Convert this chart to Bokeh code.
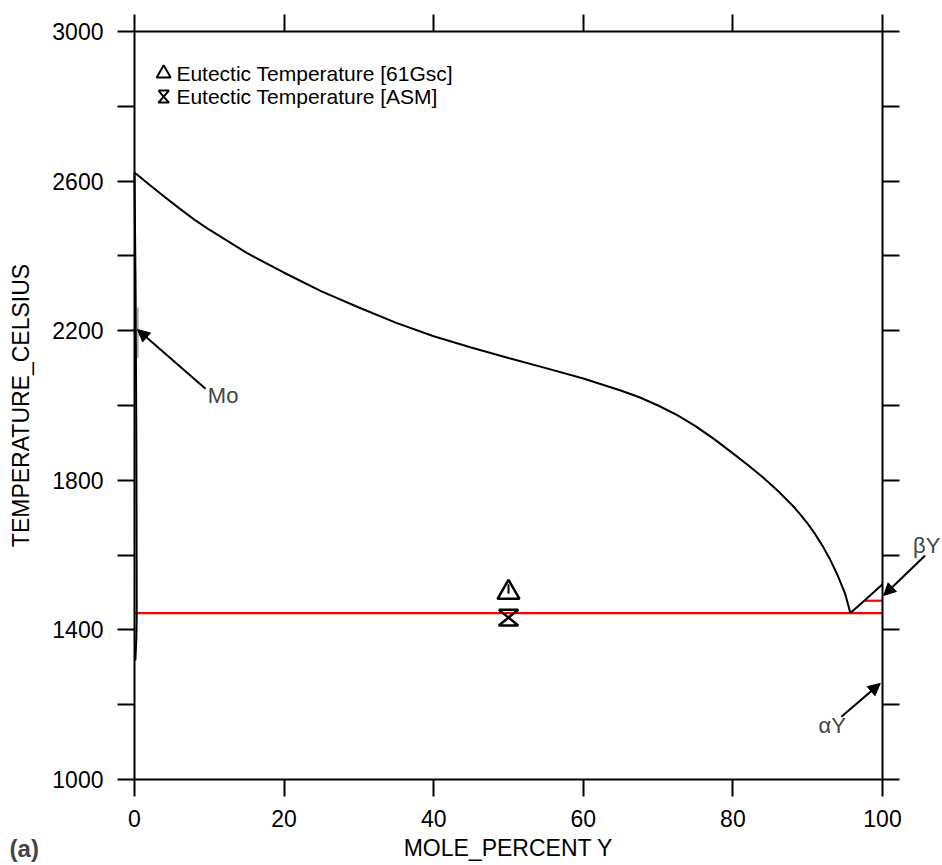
from bokeh.plotting import figure
from bokeh.models import LinearAxis, FixedTicker, Label, Arrow, NormalHead, Range1d
from bokeh.core.properties import value
from bokeh.embed import file_html
from bokeh.resources import INLINE

FONT = "Liberation Sans"

# ---------------- data ----------------
x_ticks = [0, 20, 40, 60, 80, 100]
y_labelled = [1000, 1400, 1800, 2200, 2600, 3000]
y_minor = [1200, 1600, 2000, 2400, 2800]
y_all = [1000, 1200, 1400, 1600, 1800, 2000, 2200, 2400, 2600, 2800, 3000]

# liquidus (Mo side) down to the eutectic
liq_x = [0, 2, 4, 6, 8, 10, 15, 20, 25, 30, 35, 40, 45, 50, 55, 60, 65, 67.5, 70,
         72.5, 75, 77.5, 80, 82, 84, 86, 88, 89, 90, 91, 92, 93, 94, 95, 95.7]
liq_T = [2623, 2590, 2558, 2527, 2497, 2470, 2408, 2355, 2305, 2262, 2221, 2185,
         2155, 2127, 2100, 2072, 2040, 2022, 2000, 1975, 1945, 1910, 1872, 1841,
         1808, 1772, 1732, 1709, 1684, 1656, 1624, 1588, 1546, 1497, 1445]
# liquidus (Y side)
liqY_x = [95.7, 97, 98, 99, 100]
liqY_T = [1445, 1468, 1486, 1504, 1522]
# (Mo) solidus / solvus
mo_x = [0, 0.15, 0.25, 0.3, 0.25, 0.12]
mo_T = [2623, 2300, 1900, 1445, 1380, 1318]
mo_grey_x = [0.45, 0.45]
mo_grey_T = [2128, 2262]

# invariant lines
eut_line_x = [0, 100]
eut_line_T = [1445, 1445]
trans_x = [97.6, 100]
trans_T = [1478, 1478]

# experimental eutectic temperatures
gsc_x = [50]
gsc_T = [1500]
asm_x = [50]
asm_T = [1433]

legend_labels = ["Eutectic Temperature [61Gsc]", "Eutectic Temperature [ASM]"]

# ---------------- figure ----------------
W, H = 942, 865
p = figure(width=W, height=H, x_range=Range1d(-17.914, 108.02),
           y_range=Range1d(770.05, 3082.9),
           output_backend="svg", toolbar_location=None,
           x_axis_location=None, y_axis_location=None,
           min_border_left=0, min_border_right=0, min_border_top=0, min_border_bottom=0)
p.background_fill_color = "white"
p.border_fill_color = "white"
p.outline_line_color = None
p.xgrid.visible = False
p.ygrid.visible = False


def style_axis(ax, tick_out=17):
    ax.axis_line_color = "black"
    ax.axis_line_width = 2
    ax.major_tick_line_color = "black"
    ax.major_tick_line_width = 2
    ax.major_tick_out = tick_out
    ax.major_tick_in = 0
    ax.minor_tick_line_color = "black"
    ax.minor_tick_line_width = 2
    ax.minor_tick_out = tick_out
    ax.minor_tick_in = 0
    ax.major_label_text_font = FONT
    ax.major_label_text_font_size = "23px"
    ax.major_label_text_color = "black"
    ax.axis_label_text_font = FONT
    ax.axis_label_text_font_size = "23px"
    ax.axis_label_text_font_style = "normal"
    ax.axis_label_text_color = "black"


bottom = LinearAxis(fixed_location=1000, bounds=(0, 100),
                    ticker=FixedTicker(ticks=x_ticks), axis_label="MOLE_PERCENT Y")
style_axis(bottom)
bottom.major_label_standoff = 14
bottom.axis_label_standoff = 4
p.add_layout(bottom, "below")

left = LinearAxis(fixed_location=0, bounds=(1000, 3000),
                  ticker=FixedTicker(ticks=y_labelled, minor_ticks=y_minor),
                  axis_label="TEMPERATURE_CELSIUS")
style_axis(left)
left.major_label_standoff = 14
left.axis_label_standoff = 15
p.add_layout(left, "left")

top = LinearAxis(fixed_location=3000, bounds=(0, 100),
                 ticker=FixedTicker(ticks=[], minor_ticks=x_ticks))
style_axis(top)
p.add_layout(top, "above")

right = LinearAxis(fixed_location=100, bounds=(1000, 3000),
                   ticker=FixedTicker(ticks=[], minor_ticks=y_all))
style_axis(right)
p.add_layout(right, "right")

# ---------------- curves ----------------
p.line(eut_line_x, eut_line_T, line_color="#ff0000", line_width=2.2)
p.line(trans_x, trans_T, line_color="#ff0000", line_width=2.2)
p.line(liq_x, liq_T, line_color="black", line_width=2)
p.line(liqY_x, liqY_T, line_color="black", line_width=2)
p.line(mo_x, mo_T, line_color="black", line_width=2)
p.line(mo_grey_x, mo_grey_T, line_color="#a0a0a0", line_width=1.5)

# ---------------- experimental points ----------------
p.scatter(gsc_x, gsc_T, marker="triangle", size=22, fill_color=None,
          line_color="black", line_width=2.5)
p.segment(gsc_x, [t - 3 for t in gsc_T], gsc_x, [t + 22 for t in gsc_T],
          line_color="black", line_width=2)


def hourglass(xc, yc, hw, hh):
    return ([xc - hw, xc + hw, xc - hw, xc + hw, xc - hw],
            [yc + hh, yc + hh, yc - hh, yc - hh, yc + hh])


hx, hy = hourglass(asm_x[0], asm_T[0], 1.3, 21)
p.line(hx, hy, line_color="black", line_width=2.5)

# ---------------- legend (manual) ----------------
leg_mx = 3.9
leg_tx = 5.6
leg_y = [2888, 2826]
p.scatter([leg_mx], [leg_y[0]], marker="triangle", size=14, fill_color=None,
          line_color="black", line_width=2)
lx, ly = hourglass(leg_mx, leg_y[1], 0.7, 16)
p.line(lx, ly, line_color="black", line_width=2)
p.text([leg_tx, leg_tx], leg_y, text=legend_labels, text_font=value(FONT),
       text_font_size="21px", text_baseline="middle", text_align="left",
       text_color="black")

# ---------------- annotations ----------------
head = dict(size=12, fill_color="black", line_color="black")
p.add_layout(Arrow(end=NormalHead(**head), x_start=9.5, y_start=2045,
                   x_end=0.4, y_end=2203, line_width=2, line_color="black"))
p.add_layout(Label(x=9.8, y=2027, text="Mo", text_font=FONT, text_font_size="22px",
                   text_baseline="middle", text_align="left"))

p.add_layout(Arrow(end=NormalHead(**head), x_start=105.7, y_start=1599,
                   x_end=100.15, y_end=1492, line_width=2, line_color="black"))
p.add_layout(Label(x=105.9, y=1625, text="βY", text_font=FONT, text_font_size="22px",
                   text_baseline="middle", text_align="center"))

p.add_layout(Arrow(end=NormalHead(**head), x_start=94.5, y_start=1168,
                   x_end=99.7, y_end=1257, line_width=2, line_color="black"))
p.add_layout(Label(x=95.1, y=1145, text="αY", text_font=FONT, text_font_size="22px",
                   text_baseline="middle", text_align="right"))

p.add_layout(Label(x=-16.7, y=815, text="(a)", text_font=FONT, text_font_size="24px",
                   text_font_style="bold", text_baseline="middle", text_align="left"))

open("out.html", "w").write(file_html(p, INLINE))
